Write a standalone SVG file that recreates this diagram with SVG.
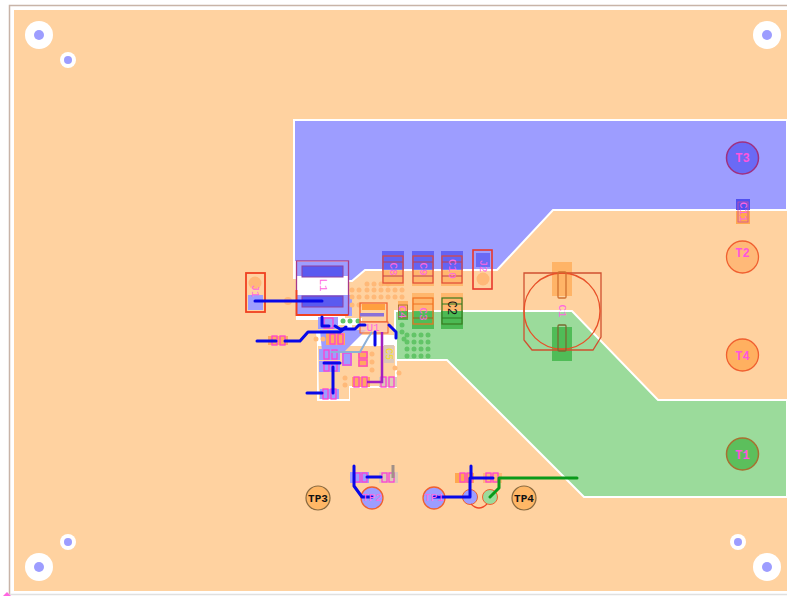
<svg xmlns="http://www.w3.org/2000/svg" width="787" height="596" viewBox="0 0 787 596">
<style>
.p{stroke:#fff;stroke-width:2}
.lb{font-family:"Liberation Mono",monospace;font-size:11px;fill:#ff66e0;text-anchor:middle}
.tb{font-family:"Liberation Mono",monospace;font-size:12px;fill:#ff55dd;text-anchor:middle;font-weight:bold}
.bl{fill:none;stroke:#0808e8;stroke-width:3;stroke-linecap:round;stroke-linejoin:round}
.gt{fill:none;stroke:#0a9a1a;stroke-width:3;stroke-linecap:round;stroke-linejoin:round}
.out{fill:none;stroke:#f04020;stroke-width:1.800}
.hole{fill:#fff}.dr{fill:#9d9dff}
.vo{fill:#ffb978}.vg{fill:#62c467}
.sm{fill:none;stroke:#ff40d0;stroke-width:1.300}
.sp{fill:#9d9dff}
.w{fill:#fff}
</style>
<rect width="787" height="596" fill="#fff"/>
<path d="M9.500 594.500V5.500H787" fill="none" stroke="#c8b4a8" stroke-width="1.500"/>
<path d="M9 594.500H787" fill="none" stroke="#e0e0e0" stroke-width="1.500"/>
<rect x="14" y="10" width="773" height="581" fill="#ffd2a0"/>
<g id="planes">
<path class="p" d="M294 120H787V210H553L497 270H365L352 281H348V262H296V278H294Z" fill="#9d9dff"/>
<path class="p" d="M395 311H572L658 400H787V497H584L447 360H395Z" fill="#9bdb9b"/>
<path d="M296 262H348V276H296ZM296 295H352V316H296Z" fill="#9d9dff"/>
<path d="M296 276H348V295H296Z" fill="#fff"/>
<path d="M296 316H345V320H296Z" fill="#fff"/>
<path d="M316 332H345V320H352V335H397V388H350V401H317V345Z" fill="#fff"/>
<path d="M318 346H395V386H349V399H319Z" fill="#ffd2a0"/>
<path d="M320 330H366L345 351H322Z" fill="#9d9dff"/>
<path d="M338 318H362V325H338Z" fill="#fff"/>
</g>
<g id="mounting-holes">
<circle class="hole" cx="39" cy="35" r="14"/><circle class="dr" cx="39" cy="35" r="5"/>
<circle class="hole" cx="68" cy="60" r="8"/><circle class="dr" cx="68" cy="60" r="4"/>
<circle class="hole" cx="767" cy="35" r="14"/><circle class="dr" cx="767" cy="35" r="5"/>
<circle class="hole" cx="39" cy="567" r="14"/><circle class="dr" cx="39" cy="567" r="5"/>
<circle class="hole" cx="68" cy="542" r="8"/><circle class="dr" cx="68" cy="542" r="4"/>
<circle class="hole" cx="767" cy="567" r="14"/><circle class="dr" cx="767" cy="567" r="5"/>
<circle class="hole" cx="738" cy="542" r="8"/><circle class="dr" cx="738" cy="542" r="4"/>
</g>
<g id="vias">
<g class="vo">
<circle cx="367" cy="284" r="2.500"/><circle cx="374" cy="284" r="2.500"/><circle cx="381" cy="284" r="2.500"/><circle cx="388" cy="284" r="2.500"/>
<circle cx="352" cy="290" r="2.500"/><circle cx="359" cy="290" r="2.500"/><circle cx="367" cy="290" r="2.500"/><circle cx="374" cy="290" r="2.500"/><circle cx="381" cy="290" r="2.500"/><circle cx="388" cy="290" r="2.500"/><circle cx="395" cy="290" r="2.500"/><circle cx="402" cy="290" r="2.500"/>
<circle cx="352" cy="297" r="2.500"/><circle cx="359" cy="297" r="2.500"/><circle cx="367" cy="297" r="2.500"/><circle cx="374" cy="297" r="2.500"/><circle cx="381" cy="297" r="2.500"/><circle cx="388" cy="297" r="2.500"/><circle cx="395" cy="297" r="2.500"/><circle cx="402" cy="297" r="2.500"/>
<circle cx="352" cy="305" r="2.500"/><circle cx="359" cy="305" r="2.500"/>
<circle cx="316" cy="339" r="2.500"/><circle cx="323" cy="339" r="2.500"/>
<circle cx="372" cy="354" r="2.500"/><circle cx="372" cy="362" r="2.500"/><circle cx="372" cy="370" r="2.500"/><circle cx="345" cy="378" r="2.500"/><circle cx="345" cy="385" r="2.500"/>
<circle cx="395" cy="368" r="2.500"/><circle cx="399" cy="373" r="2.500"/>
<circle cx="288" cy="301" r="4"/>
</g>
<g class="vg">
<circle cx="343" cy="321" r="2.500"/><circle cx="350" cy="321" r="2.500"/><circle cx="358" cy="321" r="2.500"/>
<circle cx="402" cy="325" r="2.500"/><circle cx="402" cy="332" r="2.500"/><circle cx="404" cy="339" r="2.500"/>
<circle cx="407" cy="335" r="2.500"/><circle cx="414" cy="335" r="2.500"/><circle cx="421" cy="335" r="2.500"/><circle cx="428" cy="335" r="2.500"/>
<circle cx="407" cy="342" r="2.500"/><circle cx="414" cy="342" r="2.500"/><circle cx="421" cy="342" r="2.500"/><circle cx="428" cy="342" r="2.500"/>
<circle cx="407" cy="349" r="2.500"/><circle cx="414" cy="349" r="2.500"/><circle cx="421" cy="349" r="2.500"/><circle cx="428" cy="349" r="2.500"/>
<circle cx="407" cy="356" r="2.500"/><circle cx="414" cy="356" r="2.500"/><circle cx="421" cy="356" r="2.500"/><circle cx="428" cy="356" r="2.500"/>
</g>
</g>
<g id="parts">
<rect x="318" y="317" width="20" height="12" fill="#9d9dff"/><rect x="324" y="318" width="9" height="10" class="sm"/>
<rect x="268" y="336" width="20" height="9" fill="#ffa860"/><rect x="272" y="336" width="5" height="9" class="sm"/><rect x="280" y="336" width="5" height="9" class="sm"/>
<rect x="326" y="333" width="19" height="12" fill="#ffa860"/><rect x="330" y="334" width="5" height="10" class="sm"/><rect x="338" y="334" width="5" height="10" class="sm"/>
<rect x="319" y="349" width="21" height="11" fill="#9d9dff"/><rect x="324" y="350" width="5" height="9" class="sm"/><rect x="332" y="350" width="5" height="9" class="sm"/>
<rect x="319" y="361" width="21" height="11" fill="#9d9dff"/><rect x="324" y="362" width="5" height="9" class="sm"/><rect x="332" y="362" width="5" height="9" class="sm"/>
<rect x="342" y="352" width="10" height="14" fill="#9d9dff"/><rect x="343" y="353" width="8" height="12" class="sm"/>
<rect x="358" y="351" width="10" height="16" fill="#ffa860"/><rect x="359" y="352" width="8" height="6" class="sm"/><rect x="359" y="360" width="8" height="6" class="sm"/>
<rect x="352" y="377" width="18" height="10" fill="#ffa860"/><rect x="354" y="377" width="5" height="10" class="sm"/><rect x="362" y="377" width="5" height="10" class="sm"/>
<rect x="379" y="377" width="18" height="10" fill="#ddc8b8"/><rect x="381" y="377" width="5" height="10" class="sm"/><rect x="389" y="377" width="5" height="10" class="sm"/>
<rect x="320" y="389" width="19" height="10" fill="#9d9dff"/><rect x="323" y="389" width="5" height="10" class="sm"/><rect x="331" y="389" width="5" height="10" class="sm"/>
<rect x="384" y="345" width="10" height="18" fill="#ddc8b8"/>
<text x="389" y="354" transform="rotate(90 389 354)" dy="3" text-anchor="middle" font-family="Liberation Mono,monospace" font-size="10" fill="#f8e020">C5</text>
<rect x="350" y="472" width="19" height="11" fill="#9d9dff"/><rect x="355" y="473" width="5" height="9" class="sm"/><rect x="362" y="473" width="5" height="9" class="sm"/>
<rect x="379" y="472" width="19" height="11" fill="#ddc8b8"/><rect x="382" y="473" width="5" height="9" class="sm"/><rect x="389" y="473" width="5" height="9" class="sm"/>
<path d="M393 465V478" stroke="#a09088" stroke-width="3"/>
<rect x="455" y="473" width="19" height="10" fill="#ffa850"/><rect x="460" y="473" width="5" height="9" class="sm"/><rect x="467" y="473" width="5" height="9" class="sm"/>
<rect x="483" y="473" width="19" height="10" fill="#ffb978"/><rect x="486" y="473" width="5" height="9" class="sm"/><rect x="493" y="473" width="5" height="9" class="sm"/>
</g>
<g id="L1">
<rect x="302" y="266" width="41" height="11" fill="#5a5af0" stroke="#9040a0"/><rect x="302" y="296" width="41" height="11" fill="#5a5af0" stroke="#9040a0"/>
<rect x="296.500" y="261" width="52" height="54" fill="none" stroke="#a83888" stroke-width="1.300"/>
<path class="out" d="M296.500 290V315H348" />
<text class="lb" transform="translate(323 285) rotate(90)" dy="3">L1</text>
</g>
<g id="J1">
<circle cx="255" cy="283" r="6.500" fill="#ffb978"/><rect x="248" y="295" width="15" height="15" class="sp"/>
<rect class="out" x="246" y="273" width="19" height="39"/>
<text class="lb" transform="translate(255 291) rotate(90)" dy="3">J1</text>
</g>
<g id="J2">
<rect x="476" y="253" width="14" height="14" fill="#6a6af5"/><circle cx="483" cy="279" r="6.500" fill="#ffb978"/>
<rect x="473" y="250" width="19" height="39" fill="none" stroke="#e8382c" stroke-width="1.600"/>
<text class="lb" transform="translate(483 266) rotate(90)" dy="3">J2</text>
</g>
<g id="C8">
<rect x="382" y="251" width="22" height="19" fill="#4a4af0" fill-opacity=".7"/><rect x="382" y="270" width="22" height="16" fill="#ffb060" fill-opacity=".8"/>
<rect x="383" y="256" width="20" height="27" fill="none" stroke="#e04838" stroke-width="1.200"/><path d="M383 262H403M383 276H403" stroke="#c04050"/>
<text class="lb" transform="translate(393 269) rotate(90)" dy="3">C8</text>
</g>
<g id="C9">
<rect x="412" y="251" width="22" height="19" fill="#4a4af0" fill-opacity=".7"/><rect x="412" y="270" width="22" height="16" fill="#ffb060" fill-opacity=".8"/>
<rect x="413" y="256" width="20" height="27" fill="none" stroke="#e04838" stroke-width="1.200"/><path d="M413 262H433M413 276H433" stroke="#c04050"/>
<text class="lb" transform="translate(423 269) rotate(90)" dy="3">C9</text>
</g>
<g id="C10">
<rect x="441" y="251" width="22" height="19" fill="#4a4af0" fill-opacity=".7"/><rect x="441" y="270" width="22" height="16" fill="#ffb060" fill-opacity=".8"/>
<rect x="442" y="256" width="20" height="27" fill="none" stroke="#e04838" stroke-width="1.200"/><path d="M442 262H462M442 276H462" stroke="#c04050"/>
<text class="lb" transform="translate(452 269) rotate(90)" dy="3">C10</text>
</g>
<g id="C3">
<rect x="412" y="293" width="22" height="18" fill="#ffb060" fill-opacity=".8"/><rect x="412" y="311" width="22" height="18" fill="#48b850" fill-opacity=".9"/>
<rect x="413" y="298" width="20" height="26" fill="none" stroke="#f07020" stroke-width="1.200"/><path d="M413 304H433" stroke="#f07020"/><path d="M413 318H433" stroke="#a06020"/>
<text class="lb" transform="translate(423 314) rotate(90)" dy="3">C3</text>
</g>
<g id="C2">
<rect x="441" y="293" width="22" height="18" fill="#ffb060" fill-opacity=".8"/><rect x="441" y="311" width="22" height="18" fill="#48b850" fill-opacity=".95"/>
<rect x="442" y="298" width="20" height="26" fill="none" stroke="#3a7a20" stroke-width="1.200"/><path d="M442 304H462M442 318H462" stroke="#2a7a20"/>
<text transform="translate(452 308) rotate(90)" dy="4" text-anchor="middle" font-family="Liberation Mono,monospace" font-size="12" fill="#111">C2</text>
</g>
<g id="C4">
<rect x="398" y="301" width="10" height="10" fill="#ffb060"/><rect x="398" y="311" width="10" height="9" fill="#48b850"/>
<rect x="398.500" y="305" width="9" height="13" fill="none" stroke="#a06830" stroke-width=".8"/>
<text class="lb" font-size="8" transform="translate(402 312) rotate(90)" dy="3">C4</text>
</g>
<g id="C1">
<rect x="552" y="262" width="20" height="34" fill="#ffb060" fill-opacity=".9"/><rect x="552" y="327" width="20" height="34" fill="#48b850" fill-opacity=".9"/>
<path d="M524 273H601V337L593 350H532L524 340Z" fill="none" stroke="#d05030" stroke-width="1.300"/>
<circle cx="562" cy="311" r="38" fill="none" stroke="#e85028" stroke-width="1.300"/>
<rect x="558" y="272" width="8" height="26" rx="1" fill="none" stroke="#d07030" stroke-width="1.300"/>
<rect x="558" y="325" width="8" height="26" rx="1" fill="none" stroke="#7a6a30" stroke-width="1.300"/>
<text class="lb" transform="translate(562 311) rotate(90)" dy="3">C1</text>
</g>
<g id="C11">
<rect x="736" y="199" width="14" height="11" fill="#5050f0"/><rect x="736" y="211" width="14" height="13" fill="#ffa850"/>
<rect x="738" y="202" width="10" height="20" fill="none" stroke="#d050a0" stroke-width=".8"/>
<text class="lb" font-size="9" transform="translate(743 212) rotate(90)" dy="3">C11</text>
</g>
<g id="T3"><circle cx="742.500" cy="158" r="16" fill="#6a6af5" stroke="#a03080" stroke-width="1.500"/><text class="tb" x="742.500" y="162">T3</text></g>
<g id="T2"><circle cx="742.500" cy="257" r="16" fill="#ffb978" stroke="#f06030" stroke-width="1.300"/><text class="tb" x="742.500" y="257">T2</text></g>
<g id="T4"><circle cx="742.500" cy="355" r="16" fill="#ffb060" stroke="#f06030" stroke-width="1.300"/><text class="tb" x="742.500" y="360">T4</text></g>
<g id="T1"><circle cx="742.500" cy="454" r="16" fill="#5cbf5c" stroke="#a87030" stroke-width="1.500"/><text class="tb" x="742.500" y="459">T1</text></g>
<g id="U1">
<rect x="360" y="303" width="27" height="19" fill="none" stroke="#f06030" stroke-width="1.300"/>
<rect x="362" y="304" width="23" height="6" fill="#ffa040"/>
<rect x="360" y="313" width="24" height="3.500" fill="#8a70d8"/>
<rect x="360" y="322" width="28" height="11" fill="#ffc8b0" fill-opacity=".7" stroke="#f06030"/>
<text class="lb" x="373" y="331">U1</text>
</g>
<g id="TP1"><circle cx="434" cy="498" r="11" fill="#9d9dff" stroke="#f06030" stroke-width="1.300"/></g>
<g id="TP2"><circle cx="372" cy="498" r="11" fill="#9d9dff" stroke="#f06030" stroke-width="1.300"/></g>
<g id="TP3"><circle cx="318" cy="498" r="12" fill="#ffb766" stroke="#8a6a40" stroke-width="1.200"/><text x="318" y="502" text-anchor="middle" font-family="Liberation Mono,monospace" font-weight="bold" font-size="11" fill="#111">TP3</text></g>
<g id="TP4"><circle cx="524" cy="498" r="12" fill="#ffb766" stroke="#8a6a40" stroke-width="1.200"/><text x="524" y="502" text-anchor="middle" font-family="Liberation Mono,monospace" font-weight="bold" font-size="11" fill="#111">TP4</text></g>
<g id="V1"><circle cx="470" cy="497" r="7.500" fill="#9d9dff" stroke="#f06030"/><circle cx="490" cy="497" r="7.500" fill="#9bdb9b" stroke="#f06030"/></g>
<g id="connectors">
<path class="bl" d="M255 301H322"/>
<path class="bl" d="M322 317V326H329"/>
<path class="bl" d="M335 326L340 329H355L359 325H365"/>
<path class="bl" d="M257 341H276M285 341H300L308 332H340L346 327"/>
<path class="bl" d="M389 325L396 332V338"/>
<path class="bl" d="M375 332V345" />
<path class="bl" d="M307 393H322M333 367V393"/>
<path class="bl" d="M324 363H340"/>
<path fill="none" stroke="#8cb0d8" stroke-width="2" d="M331 352H360L368 338 372 332"/>
<path fill="none" stroke="#a020c0" stroke-width="2.500" d="M367 382H382V332"/>
<path class="bl" d="M354 466V486L362 497H372M367 477H381"/>
<path class="bl" d="M434 497H470V478H493M471 478V466"/>
<path class="gt" d="M490 497L499 488V478H577"/>
<path fill="none" stroke="#f04828" stroke-width="1.300" d="M471 504Q479 512 487 504"/>
</g>
<text class="lb" x="434" y="501">TP1</text>
<text class="lb" x="372" y="501">TP2</text>
<path d="M3 596L7 592 11 596Z" fill="#ff66e0"/>
</svg>
